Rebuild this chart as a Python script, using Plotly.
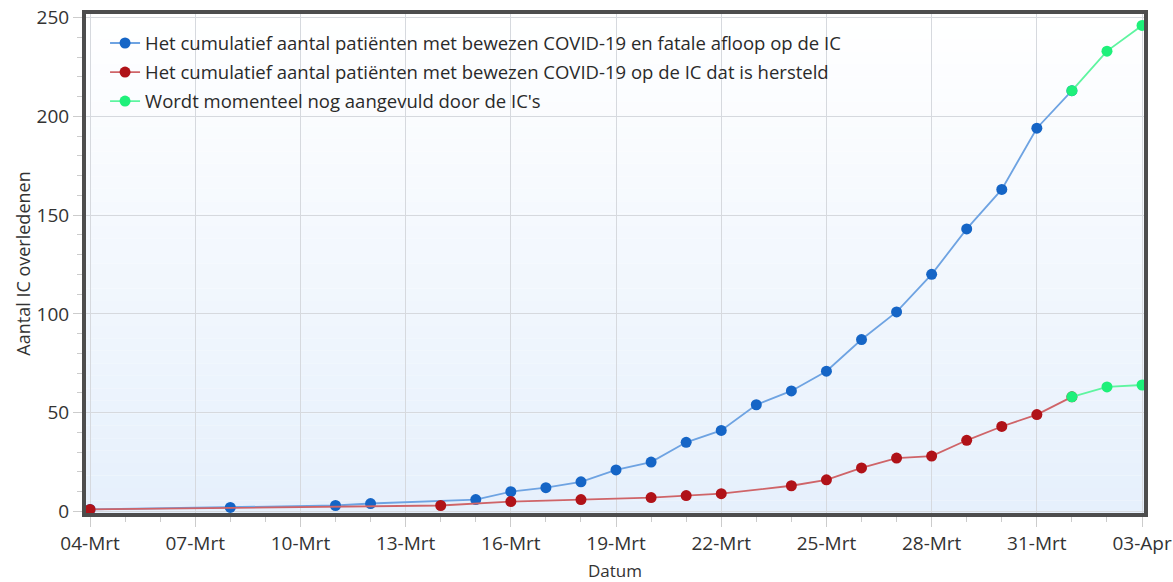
import plotly.graph_objects as go

# ---- data ----
blue_dates = ["2020-03-04", "2020-03-08", "2020-03-11", "2020-03-12", "2020-03-15", "2020-03-16",
              "2020-03-17", "2020-03-18", "2020-03-19", "2020-03-20", "2020-03-21", "2020-03-22",
              "2020-03-23", "2020-03-24", "2020-03-25", "2020-03-26", "2020-03-27", "2020-03-28",
              "2020-03-29", "2020-03-30", "2020-03-31", "2020-04-01"]
blue_vals = [1, 2, 3, 4, 6, 10, 12, 15, 21, 25, 35, 41, 54, 61, 71, 87, 101, 120, 143, 163, 194, 213]

red_dates = ["2020-03-04", "2020-03-14", "2020-03-16", "2020-03-18", "2020-03-20", "2020-03-21",
             "2020-03-22", "2020-03-24", "2020-03-25", "2020-03-26", "2020-03-27", "2020-03-28",
             "2020-03-29", "2020-03-30", "2020-03-31", "2020-04-01"]
red_vals = [1, 3, 5, 6, 7, 8, 9, 13, 16, 22, 27, 28, 36, 43, 49, 58]

green_dates = ["2020-04-01", "2020-04-02", "2020-04-03"]
green_blue_vals = [213, 233, 246]
green_red_vals = [58, 63, 64]

tick_dates = ["2020-03-04", "2020-03-07", "2020-03-10", "2020-03-13", "2020-03-16", "2020-03-19",
              "2020-03-22", "2020-03-25", "2020-03-28", "2020-03-31", "2020-04-03"]
tick_labels = ["04-Mrt", "07-Mrt", "10-Mrt", "13-Mrt", "16-Mrt", "19-Mrt",
               "22-Mrt", "25-Mrt", "28-Mrt", "31-Mrt", "03-Apr"]

names = ["Het cumulatief aantal patiënten met bewezen COVID-19 en fatale afloop op de IC",
         "Het cumulatief aantal patiënten met bewezen COVID-19 op de IC dat is hersteld",
         "Wordt momenteel nog aangevuld door de IC's"]

BLUE_M, BLUE_L = "#1565c6", "#6ea3e2"
RED_M, RED_L = "#b01218", "#cf6468"
GREEN_M, GREEN_L = "#1ef07a", "#5ef5a0"
MS = 11

fig = go.Figure()
fig.add_trace(go.Scatter(x=blue_dates, y=blue_vals, mode="lines+markers", name=names[0],
                         legendgroup="a",
                         line=dict(color=BLUE_L, width=1.8), marker=dict(color=BLUE_M, size=MS)))
fig.add_trace(go.Scatter(x=red_dates, y=red_vals, mode="lines+markers", name=names[1],
                         legendgroup="b",
                         line=dict(color=RED_L, width=1.8), marker=dict(color=RED_M, size=MS)))
fig.add_trace(go.Scatter(x=green_dates, y=green_blue_vals, mode="lines+markers", name=names[2],
                         legendgroup="c",
                         line=dict(color=GREEN_L, width=1.8), marker=dict(color=GREEN_M, size=MS)))
fig.add_trace(go.Scatter(x=green_dates, y=green_red_vals, mode="lines+markers", name=names[2],
                         legendgroup="c", showlegend=False,
                         line=dict(color=GREEN_L, width=1.8), marker=dict(color=GREEN_M, size=MS)))

# gradient background bands
n = 40
shapes = []
for i in range(n):
    t = i / (n - 1)
    r = round(255 + (230 - 255) * t)
    g = round(255 + (240 - 255) * t)
    b = round(255 + (252 - 255) * t)
    shapes.append(dict(type="rect", xref="paper", yref="paper",
                       x0=0, x1=1, y0=1 - (i + 1) / n, y1=1 - i / n,
                       fillcolor=f"rgb({r},{g},{b})", line=dict(width=0), layer="below"))

font_fam = "Open Sans, Noto Sans, sans-serif"
fig.update_layout(
    width=1173, height=582,
    margin=dict(l=86, r=29, t=14, b=69, autoexpand=False),
    paper_bgcolor="white", plot_bgcolor="white",
    shapes=shapes,
    font=dict(family=font_fam, color="#333333", size=14),
    showlegend=True,
    legend=dict(x=0.018, y=0.979, xanchor="left", yanchor="top",
                bgcolor="rgba(0,0,0,0)", font=dict(size=18.5, color="#2a2a2a"),
                traceorder="grouped", tracegroupgap=2, itemwidth=30),
    xaxis=dict(
        type="date", automargin=False,
        range=["2020-03-03 21:15", "2020-04-03 01:20"],
        tickvals=tick_dates, ticktext=tick_labels,
        showgrid=True, gridcolor="#d6d9de", gridwidth=1,
        showline=True, linecolor="#4d4d4d", linewidth=4, mirror=True,
        ticks="outside", ticklen=10, tickcolor="#cccccc",
        minor=dict(dtick=86400000, ticks="outside", ticklen=5, tickcolor="#cccccc", showgrid=False),
        tickfont=dict(size=19, color="#333333"),
        title=dict(text="Datum", font=dict(size=17, color="#333333"), standoff=13),
        zeroline=False,
    ),
    yaxis=dict(
        automargin=False,
        range=[-0.8, 251.8],
        tickvals=[0, 50, 100, 150, 200, 250],
        showgrid=True, gridcolor="#d6d9de", gridwidth=1,
        showline=True, linecolor="#4d4d4d", linewidth=4, mirror=True,
        ticks="outside", ticklen=9, tickcolor="#cccccc",
        minor=dict(dtick=10, ticks="outside", ticklen=5, tickcolor="#cccccc", showgrid=False),
        tickfont=dict(size=19, color="#333333"),
        title=dict(text="Aantal IC overledenen", font=dict(size=18, color="#333333"), standoff=2),
        zeroline=False,
    ),
)

fig.write_html("out.html", config={"displayModeBar": False},
               post_script="document.body.style.margin='0';document.body.style.overflow='hidden';")
